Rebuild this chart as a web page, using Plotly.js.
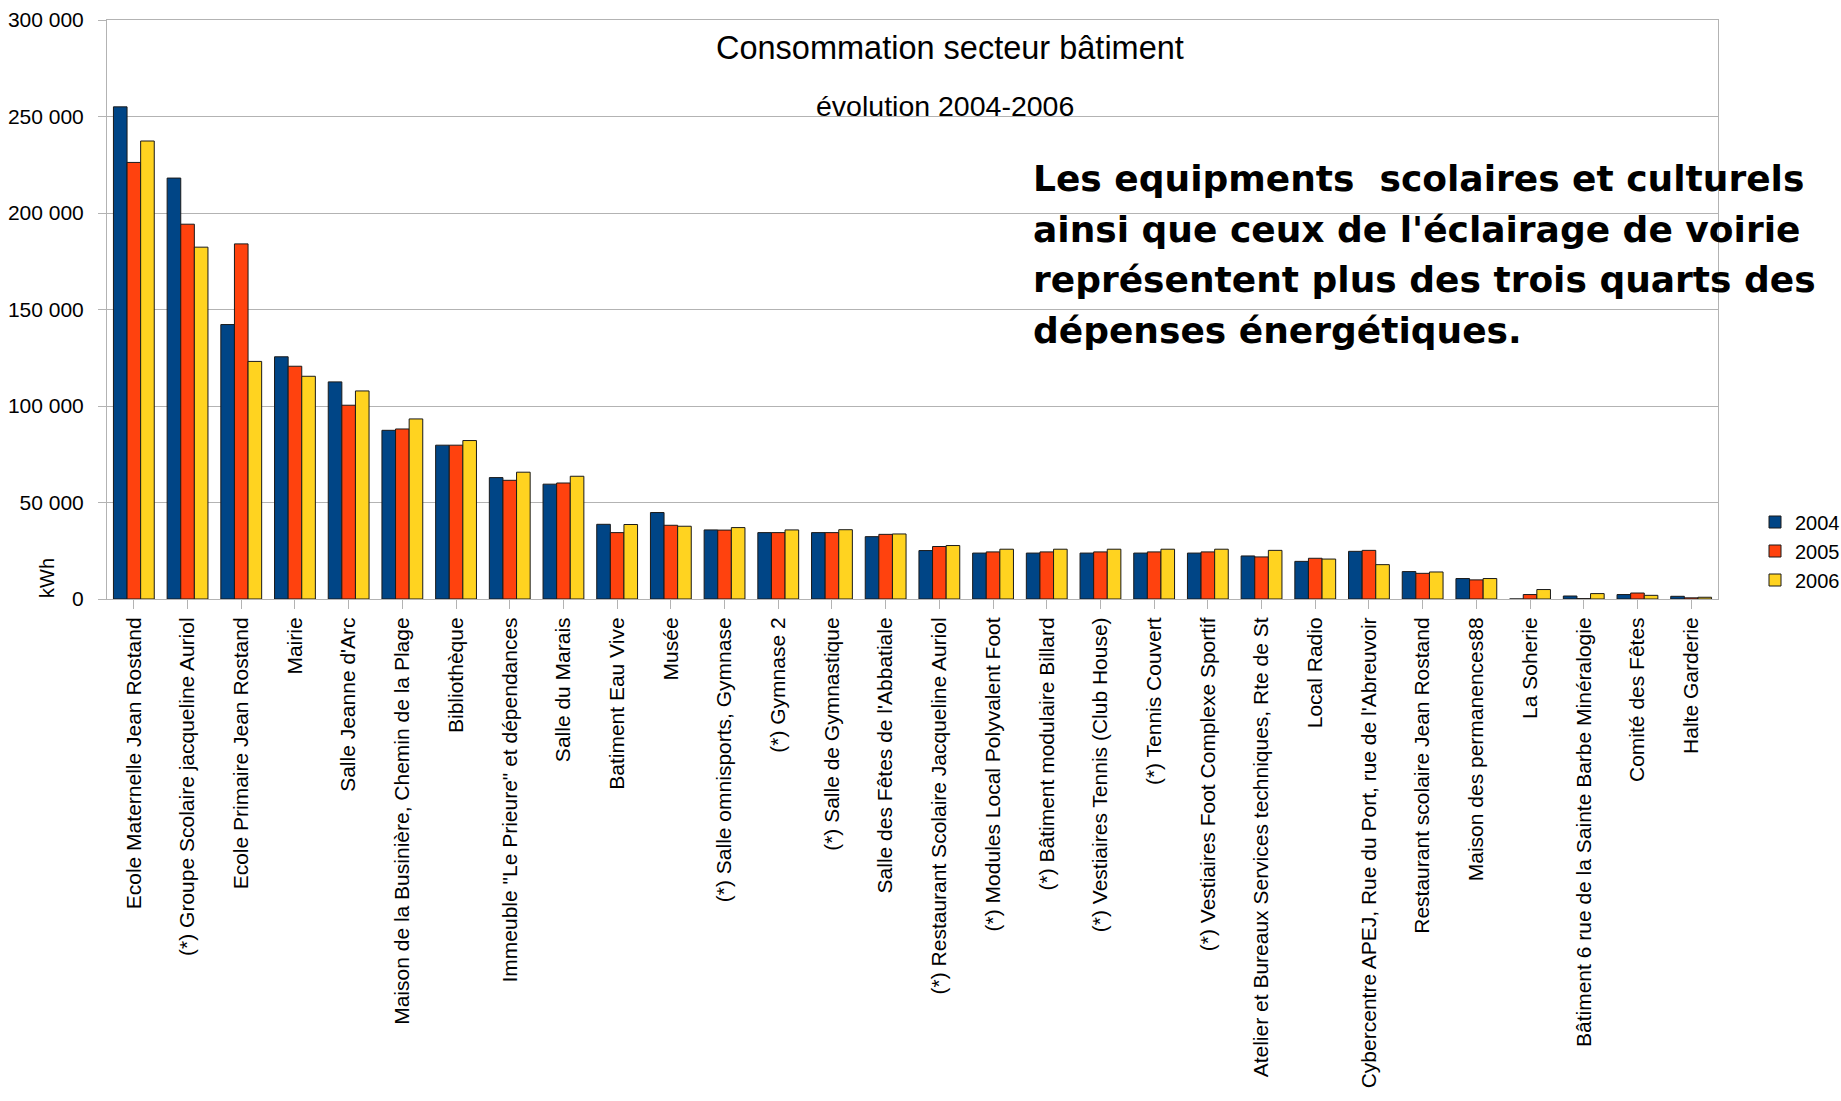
<!DOCTYPE html>
<html>
<head>
<meta charset="utf-8">
<script src="https://cdn.plot.ly/plotly-3.0.1.min.js"></script>
<style>html,body{margin:0;padding:0;background:#fff;}#chart{width:1841px;height:1101px;}</style>
</head>
<body>
<div id="chart"></div>
<script>
const categories = [
  "Ecole Maternelle Jean Rostand",
  "(*) Groupe Scolaire jacqueline Auriol",
  "Ecole Primaire Jean Rostand",
  "Mairie",
  "Salle Jeanne d'Arc",
  "Maison de la Businière, Chemin de la Plage",
  "Bibliothèque",
  "Immeuble \"Le Prieure\" et dépendances",
  "Salle du Marais",
  "Batiment Eau Vive",
  "Musée",
  "(*) Salle omnisports, Gymnase",
  "(*) Gymnase 2",
  "(*) Salle de Gymnastique",
  "Salle des Fêtes de l'Abbatiale",
  "(*) Restaurant Scolaire Jacqueline Auriol",
  "(*) Modules Local Polyvalent Foot",
  "(*) Bâtiment modulaire Billard",
  "(*) Vestiaires Tennis (Club House)",
  "(*) Tennis Couvert",
  "(*) Vestiaires Foot Complexe Sportif",
  "Atelier et Bureaux Services techniques, Rte de St",
  "Local Radio",
  "Cybercentre APEJ, Rue du Port, rue de l'Abreuvoir",
  "Restaurant scolaire Jean Rostand",
  "Maison des permanences88",
  "La Soherie",
  "Bâtiment 6 rue de la Sainte Barbe Minéralogie",
  "Comité des Fêtes",
  "Halte Garderie"
];
const values2004 = [255000, 218100, 142200, 125500, 112500, 87400, 79700, 62900, 59500, 38700,
  44800, 35800, 34400, 34400, 32300, 25100, 23800, 23800, 23800, 23800,
  23800, 22300, 19500, 24700, 14200, 10600, 0, 1550, 2300, 1400];
const values2005 = [226200, 194200, 184000, 120600, 100400, 88100, 79700, 61500, 60100, 34400,
  38200, 35700, 34400, 34400, 33500, 27200, 24400, 24400, 24400, 24400,
  24400, 21800, 21100, 25200, 13300, 9900, 2300, 200, 3100, 600];
const values2006 = [237300, 182300, 123100, 115400, 107800, 93300, 82100, 65700, 63600, 38600,
  37700, 37000, 35800, 35900, 33700, 27700, 25800, 25800, 25800, 25800,
  25800, 25200, 20700, 17800, 14000, 10600, 4900, 2800, 1900, 900];
const seriesNames = ["2004", "2005", "2006"];
const seriesColors = ["#004586", "#ff420e", "#ffd320"];
const yTicks = [0, 50000, 100000, 150000, 200000, 250000, 300000];
const noteLines = [
  "Les equipments  scolaires et culturels",
  "ainsi que ceux de l'éclairage de voirie",
  "représentent plus des trois quarts des",
  "dépenses énergétiques."
];

const allValues = [values2004, values2005, values2006];
const traces = allValues.map((v, i) => ({
  type: "bar",
  name: seriesNames[i],
  x: categories,
  y: v,
  marker: {color: seriesColors[i], line: {color: "#1a1a1a", width: 1}},
  hoverinfo: "x+y+name"
}));

const font = "Liberation Sans, Arial, sans-serif";
const W = 1841, H = 1101, L = 107, R = 1718, T = 20, B = 599;
const px = (x) => (x - L) / (R - L);
const py = (y) => (B - y) / (B - T);
const noteY = [178, 229, 279, 330];

const annotations = [
  {text: "Consommation secteur bâtiment", xref: "paper", yref: "paper",
   x: px(950), y: py(48), xanchor: "center", yanchor: "middle", showarrow: false,
   font: {family: font, size: 32.5, color: "#000"}},
  {text: "évolution 2004-2006", xref: "paper", yref: "paper",
   x: px(945), y: py(106), xanchor: "center", yanchor: "middle", showarrow: false,
   font: {family: font, size: 28.5, color: "#000"}},
  {text: "kWh", xref: "paper", yref: "paper",
   x: px(47), y: py(578), xanchor: "center", yanchor: "middle",
   textangle: -90, showarrow: false, font: {family: font, size: 20, color: "#000"}}
];
noteLines.forEach((t, i) => annotations.push({
  text: t, xref: "paper", yref: "paper", x: px(1031), y: py(noteY[i]),
  xanchor: "left", yanchor: "middle", align: "left", showarrow: false,
  font: {family: "DejaVu Sans, sans-serif", size: 36, color: "#000", weight: 700}
}));

const layout = {
  width: W,
  height: H,
  paper_bgcolor: "#ffffff",
  plot_bgcolor: "#ffffff",
  separators: ", ",
  margin: {l: L, r: W - R, t: T, b: H - B, pad: 0, autoexpand: false},
  barmode: "group",
  bargap: 0.24,
  bargroupgap: 0,
  font: {family: font, color: "#000", size: 20},
  showlegend: true,
  legend: {
    xref: "container", yref: "container",
    x: 1755 / W, xanchor: "left", y: (H - 551) / H, yanchor: "middle",
    font: {family: font, size: 20, color: "#000"},
    bgcolor: "rgba(0,0,0,0)", tracegroupgap: 0, itemwidth: 30
  },
  xaxis: {
    type: "category",
    tickangle: -90,
    tickfont: {family: font, size: 21, color: "#000"},
    ticks: "outside", ticklen: 9, tickcolor: "#b3b3b3",
    showline: true, linecolor: "#b3b3b3", linewidth: 1, mirror: true,
    showgrid: false, automargin: false
  },
  yaxis: {
    range: [0, 300000],
    tickvals: yTicks,
    tickformat: ",",
    tickfont: {family: font, size: 21, color: "#000"},
    ticks: "outside", ticklen: 8, tickcolor: "#b3b3b3",
    ticklabelstandoff: 10,
    showline: true, linecolor: "#b3b3b3", linewidth: 1, mirror: true,
    showgrid: true, gridcolor: "#b3b3b3", gridwidth: 1,
    zeroline: false, automargin: false
  },
  annotations: annotations
};

Plotly.newPlot("chart", traces, layout, {displayModeBar: false, staticPlot: true});
</script>
</body>
</html>
